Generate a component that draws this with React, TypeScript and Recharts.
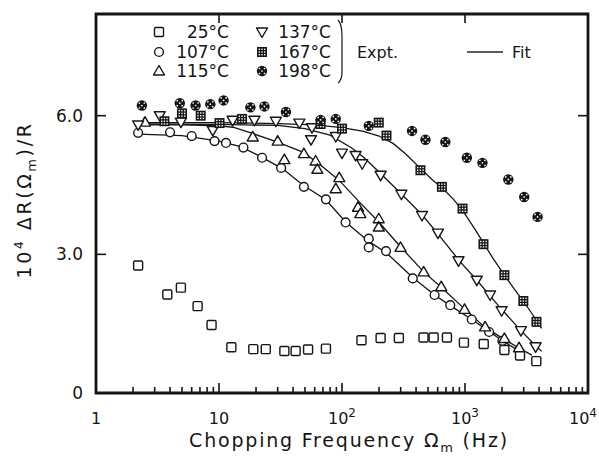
import React from 'react';
import { ScatterChart, Scatter, XAxis, YAxis, Legend, ReferenceArea } from 'recharts';

const INK = '#151515';
const FONT = '"DejaVu Sans", "Liberation Sans", sans-serif';

// 25°C – open squares (no fit)
const f25 = [2.2, 3.8, 4.9, 6.7, 8.7, 12.6, 19, 24, 34, 42, 53, 74, 144, 206, 290, 460, 556, 713, 980, 1420, 2090, 2800, 3800];
const v25 = [2.76, 2.13, 2.28, 1.88, 1.47, 0.99, 0.95, 0.95, 0.91, 0.91, 0.94, 0.96, 1.14, 1.19, 1.19, 1.2, 1.2, 1.2, 1.09, 1.06, 0.93, 0.81, 0.69];

// 107°C – open circles
const f107 = [2.2, 4.0, 6.0, 9.2, 11.4, 15.8, 22.4, 32, 49, 74, 107, 165, 165, 228, 376, 566, 759, 1135, 1570, 2015];
const v107 = [5.63, 5.64, 5.56, 5.45, 5.41, 5.31, 5.09, 4.87, 4.46, 4.19, 3.69, 3.34, 3.15, 3.07, 2.48, 2.12, 1.9, 1.59, 1.32, 1.13];
const fitF107 = [2.2, 5, 10, 15, 22, 33, 48, 74, 107, 165, 230, 376, 566, 760, 1135, 1570, 2015, 2800];
const fitV107 = [5.6, 5.57, 5.45, 5.33, 5.11, 4.85, 4.5, 4.18, 3.7, 3.28, 3.03, 2.5, 2.12, 1.89, 1.59, 1.33, 1.13, 0.9];

// 115°C – open triangles
const f115 = [2.5, 18.8, 30, 34, 49, 61, 63, 95, 89, 135, 141, 199, 199, 299, 461, 641, 991, 1456, 2090, 2750];
const v115 = [5.86, 5.54, 5.45, 5.05, 5.18, 5.02, 4.84, 4.66, 4.42, 4.02, 3.88, 3.77, 3.59, 3.15, 2.62, 2.3, 1.81, 1.43, 1.18, 0.98];
const fitF115 = [2.2, 5, 10, 13, 19, 30, 48, 65, 95, 140, 199, 300, 461, 641, 991, 1456, 2090, 2750, 3500];
const fitV115 = [5.8, 5.8, 5.78, 5.75, 5.61, 5.43, 5.21, 4.96, 4.6, 4.12, 3.7, 3.16, 2.62, 2.29, 1.82, 1.42, 1.16, 0.97, 0.82];

// 137°C – open inverted triangles
const f137 = [2.2, 3.3, 4.9, 8.9, 12.9, 19.4, 29, 45, 57, 56, 89, 100, 129, 146, 206, 304, 447, 603, 885, 1247, 1600, 1985, 2850, 3750];
const v137 = [5.8, 6.0, 5.86, 5.68, 5.9, 5.9, 5.88, 5.84, 5.74, 5.48, 5.55, 5.19, 5.14, 4.96, 4.71, 4.3, 3.84, 3.46, 2.86, 2.44, 2.12, 1.78, 1.35, 1.0];
const fitF137 = [2.2, 10, 30, 50, 80, 120, 150, 200, 300, 450, 600, 900, 1250, 1600, 2000, 2850, 3700, 4200];
const fitV137 = [5.82, 5.81, 5.79, 5.72, 5.58, 5.3, 5.1, 4.78, 4.32, 3.85, 3.45, 2.86, 2.44, 2.1, 1.8, 1.35, 1.04, 0.9];

// 167°C – checkered squares
const f167 = [3.6, 5.0, 7.1, 10.1, 15.4, 67, 100, 199, 230, 434, 649, 955, 1413, 2090, 2980, 3810];
const v167 = [5.88, 6.05, 6.0, 5.84, 5.93, 5.82, 5.72, 5.85, 5.57, 4.82, 4.46, 3.99, 3.22, 2.55, 1.99, 1.54];
const fitF167 = [2.2, 10, 30, 60, 100, 150, 200, 260, 330, 434, 550, 649, 800, 955, 1200, 1413, 1700, 2090, 2500, 2980, 3500, 4200];
const fitV167 = [5.85, 5.85, 5.83, 5.8, 5.74, 5.66, 5.56, 5.4, 5.17, 4.86, 4.6, 4.44, 4.2, 3.95, 3.55, 3.25, 2.9, 2.55, 2.26, 1.99, 1.72, 1.4];

// 198°C – dotted dark circles (no fit)
const f198 = [2.36, 4.8, 6.45, 8.5, 10.9, 18, 23.4, 35, 67, 89, 165, 371, 477, 692, 1035, 1386, 2250, 3030, 3890];
const v198 = [6.22, 6.27, 6.22, 6.25, 6.33, 6.18, 6.2, 6.08, 5.91, 5.93, 5.78, 5.67, 5.48, 5.43, 5.09, 4.98, 4.62, 4.24, 3.81];

const xMajor = [1, 10, 100, 1000, 10000];
const xMajorSup = ['', '', '2', '3', '4'];
const xMinor = [1, 10, 100, 1000].flatMap((d) => [2, 3, 4, 5, 6, 7, 8, 9].map((k) => k * d));
const xTop = [10, 100, 1000];
const yTicks = [0, 3, 6];
const yLabels = ['0', '3.0', '6.0'];
const X_DOMAIN = [1, 10000];
const Y_DOMAIN = [0, 8.2];

const pts = (f: number[], v: number[]) => f.map((x, i) => ({ f: x, v: v[i] }));

type P = { cx?: number; cy?: number };

const Square = ({ cx = 0, cy = 0 }: P) => (
  <rect x={cx - 4.5} y={cy - 4.5} width={9} height={9} rx={1.2} fill="#fff" stroke={INK} strokeWidth={1.4} />
);
const Circ = ({ cx = 0, cy = 0 }: P) => (
  <circle cx={cx} cy={cy} r={4.4} fill="#fff" stroke={INK} strokeWidth={1.4} />
);
const TriUp = ({ cx = 0, cy = 0 }: P) => (
  <path d={`M${cx},${cy - 5.5}L${cx + 5.5},${cy + 4}L${cx - 5.5},${cy + 4}Z`} fill="#fff" stroke={INK} strokeWidth={1.4} strokeLinejoin="round" />
);
const TriDown = ({ cx = 0, cy = 0 }: P) => (
  <path d={`M${cx - 5.5},${cy - 4}L${cx + 5.5},${cy - 4}L${cx},${cy + 5.5}Z`} fill="#fff" stroke={INK} strokeWidth={1.4} strokeLinejoin="round" />
);
const Checker = ({ cx = 0, cy = 0 }: P) => (
  <g>
    <rect x={cx - 5} y={cy - 5} width={10} height={10} fill={INK} />
    {[-2.7, 0, 2.7].map((dx) =>
      [-2.7, 0, 2.7].map((dy) => (
        <rect key={`${dx}${dy}`} x={cx + dx - 0.7} y={cy + dy - 0.7} width={1.4} height={1.4} fill="#fff" />
      ))
    )}
  </g>
);
const DotCirc = ({ cx = 0, cy = 0 }: P) => (
  <g>
    <circle cx={cx} cy={cy} r={5.2} fill={INK} />
    {[[0, 0], [-2.5, -2.5], [2.5, -2.5], [-2.5, 2.5], [2.5, 2.5]].map(([dx, dy], i) => (
      <circle key={i} cx={cx + dx} cy={cy + dy} r={0.85} fill="#fff" />
    ))}
  </g>
);
const Nothing = () => <g />;

// inward tick marks, drawn as thin rects
const BottomTick = (props: any) => {
  const { x, y, payload } = props;
  const i = xMajor.indexOf(payload.value);
  const major = i >= 0;
  const len = major ? 10 : 6;
  const last = i === xMajor.length - 1;
  return (
    <g>
      <rect x={x - 0.8} y={y - len} width={1.6} height={len} fill={INK} />
      {major && (
        <text
          x={last ? x + 9 : x}
          y={y + 31}
          textAnchor={last ? 'end' : 'middle'}
          fontSize={16}
          fontFamily={FONT}
          fill={INK}
        >
          {i === 0 ? '1' : '10'}
          {xMajorSup[i] && <tspan dy={-7} fontSize={12}>{xMajorSup[i]}</tspan>}
        </text>
      )}
    </g>
  );
};

const TopTick = (props: any) => {
  const { x, y } = props;
  return <rect x={x - 0.8} y={y} width={1.6} height={9} fill={INK} />;
};

const LeftTick = (props: any) => {
  const { x, y, payload } = props;
  const i = yTicks.indexOf(payload.value);
  return (
    <g>
      {payload.value > 0 && <rect x={x} y={y - 0.8} width={10} height={1.6} fill={INK} />}
      <text x={x - 13} y={y + 6} textAnchor="end" fontSize={17} fontFamily={FONT} fill={INK}>
        {yLabels[i]}
      </text>
    </g>
  );
};

const RightTick = (props: any) => {
  const { x, y, payload } = props;
  if (payload.value === 0) return <g />;
  return <rect x={x - 10} y={y - 0.8} width={10} height={1.6} fill={INK} />;
};

const XTitle = () => (
  <text x={349} y={447} textAnchor="middle" fontSize={19} letterSpacing={1.8} fontFamily={FONT} fill={INK}>
    Chopping Frequency Ω<tspan dy={5} fontSize={13}>m</tspan>
    <tspan dy={-5}> (Hz)</tspan>
  </text>
);

const YTitle = () => (
  <text
    x={0}
    y={0}
    transform="translate(31,200) rotate(-90)"
    textAnchor="middle"
    fontSize={19}
    letterSpacing={2.6}
    fontFamily={FONT}
    fill={INK}
  >
    10<tspan dy={-8} fontSize={12}>4</tspan>
    <tspan dy={8}> ΔR(Ω</tspan>
    <tspan dy={5} fontSize={13}>m</tspan>
    <tspan dy={-5}>)/R</tspan>
  </text>
);

const legendRows = [
  { mk: Square, label: '25°C', x: 159, tx: 229, y: 32 },
  { mk: Circ, label: '107°C', x: 159, tx: 229, y: 52 },
  { mk: TriUp, label: '115°C', x: 159, tx: 229, y: 71 },
  { mk: TriDown, label: '137°C', x: 262, tx: 331, y: 32 },
  { mk: Checker, label: '167°C', x: 262, tx: 331, y: 52 },
  { mk: DotCirc, label: '198°C', x: 262, tx: 331, y: 71 },
];

const LegendBox = () => (
  <svg width={599} height={95} style={{ display: 'block' }}>
    {legendRows.map((r) => {
      const Mk = r.mk;
      return (
        <g key={r.label}>
          <Mk cx={r.x} cy={r.y} />
          <text x={r.tx} y={r.y + 6} textAnchor="end" fontSize={17} fontFamily={FONT} fill={INK}>
            {r.label}
          </text>
        </g>
      );
    })}
    <path d="M338,20 Q342,24 342,36 L342,72 Q342,80 338,83" fill="none" stroke={INK} strokeWidth={1.2} />
    <text x={357} y={58} fontSize={16} fontFamily={FONT} fill={INK}>
      Expt.
    </text>
    <rect x={467} y={51.3} width={36} height={1.4} fill={INK} />
    <text x={512} y={58} fontSize={16} fontFamily={FONT} fill={INK}>
      Fit
    </text>
  </svg>
);

const fits = [
  pts(fitF107, fitV107),
  pts(fitF115, fitV115),
  pts(fitF137, fitV137),
  pts(fitF167, fitV167),
];

const series = [
  { name: '25°C', data: pts(f25, v25), mk: Square },
  { name: '107°C', data: pts(f107, v107), mk: Circ },
  { name: '115°C', data: pts(f115, v115), mk: TriUp },
  { name: '137°C', data: pts(f137, v137), mk: TriDown },
  { name: '167°C', data: pts(f167, v167), mk: Checker },
  { name: '198°C', data: pts(f198, v198), mk: DotCirc },
];

export default function App() {
  return (
    <div style={{ position: 'absolute', left: 0, top: 0, width: 599, height: 464, background: '#fff' }}>
      <ScatterChart width={599} height={464} margin={{ top: 13, right: 10, bottom: 0, left: 0 }}>
        <XAxis
          xAxisId="b"
          dataKey="f"
          type="number"
          scale="log"
          domain={X_DOMAIN}
          allowDataOverflow
          ticks={[...xMajor, ...xMinor]}
          interval={0}
          height={71}
          tickSize={0}
          tickMargin={0}
          tickLine={false}
          tick={BottomTick}
          axisLine={false}
          label={<XTitle />}
        />
        <XAxis
          xAxisId="t"
          orientation="top"
          dataKey="f"
          type="number"
          scale="log"
          domain={X_DOMAIN}
          allowDataOverflow
          ticks={xTop}
          interval={0}
          height={1}
          tickSize={0}
          tickMargin={0}
          tickLine={false}
          tick={TopTick}
          axisLine={false}
        />
        <YAxis
          yAxisId="l"
          dataKey="v"
          type="number"
          domain={Y_DOMAIN}
          allowDataOverflow
          ticks={yTicks}
          interval={0}
          width={96}
          tickSize={0}
          tickMargin={0}
          tickLine={false}
          tick={LeftTick}
          axisLine={false}
          label={<YTitle />}
        />
        <YAxis
          yAxisId="r"
          orientation="right"
          dataKey="v"
          type="number"
          domain={Y_DOMAIN}
          allowDataOverflow
          ticks={yTicks}
          interval={0}
          width={1}
          tickSize={0}
          tickMargin={0}
          tickLine={false}
          tick={RightTick}
          axisLine={false}
        />
        {/* plot frame */}
        <ReferenceArea
          xAxisId="b"
          yAxisId="l"
          x1={X_DOMAIN[0]}
          x2={X_DOMAIN[1]}
          y1={Y_DOMAIN[0]}
          y2={Y_DOMAIN[1]}
          fill="none"
          fillOpacity={0}
          stroke={INK}
          strokeWidth={2.8}
          ifOverflow="visible"
        />
        <Legend
          layout="horizontal"
          verticalAlign="middle"
          align="center"
          content={() => <LegendBox />}
          wrapperStyle={{ position: 'absolute', left: 0, top: 0, width: 599, height: 95, pointerEvents: 'none' }}
        />
        {fits.map((d, i) => (
          <Scatter
            key={`fit-${i}`}
            xAxisId="b"
            yAxisId="l"
            data={d}
            line={{ stroke: INK, strokeWidth: 1.3 }}
            lineType="joint"
            shape={Nothing}
            isAnimationActive={false}
          />
        ))}
        {series.map((s) => (
          <Scatter
            key={s.name}
            name={s.name}
            xAxisId="b"
            yAxisId="l"
            data={s.data}
            shape={(p: any) => <s.mk cx={p.cx} cy={p.cy} />}
            isAnimationActive={false}
          />
        ))}
      </ScatterChart>
    </div>
  );
}
